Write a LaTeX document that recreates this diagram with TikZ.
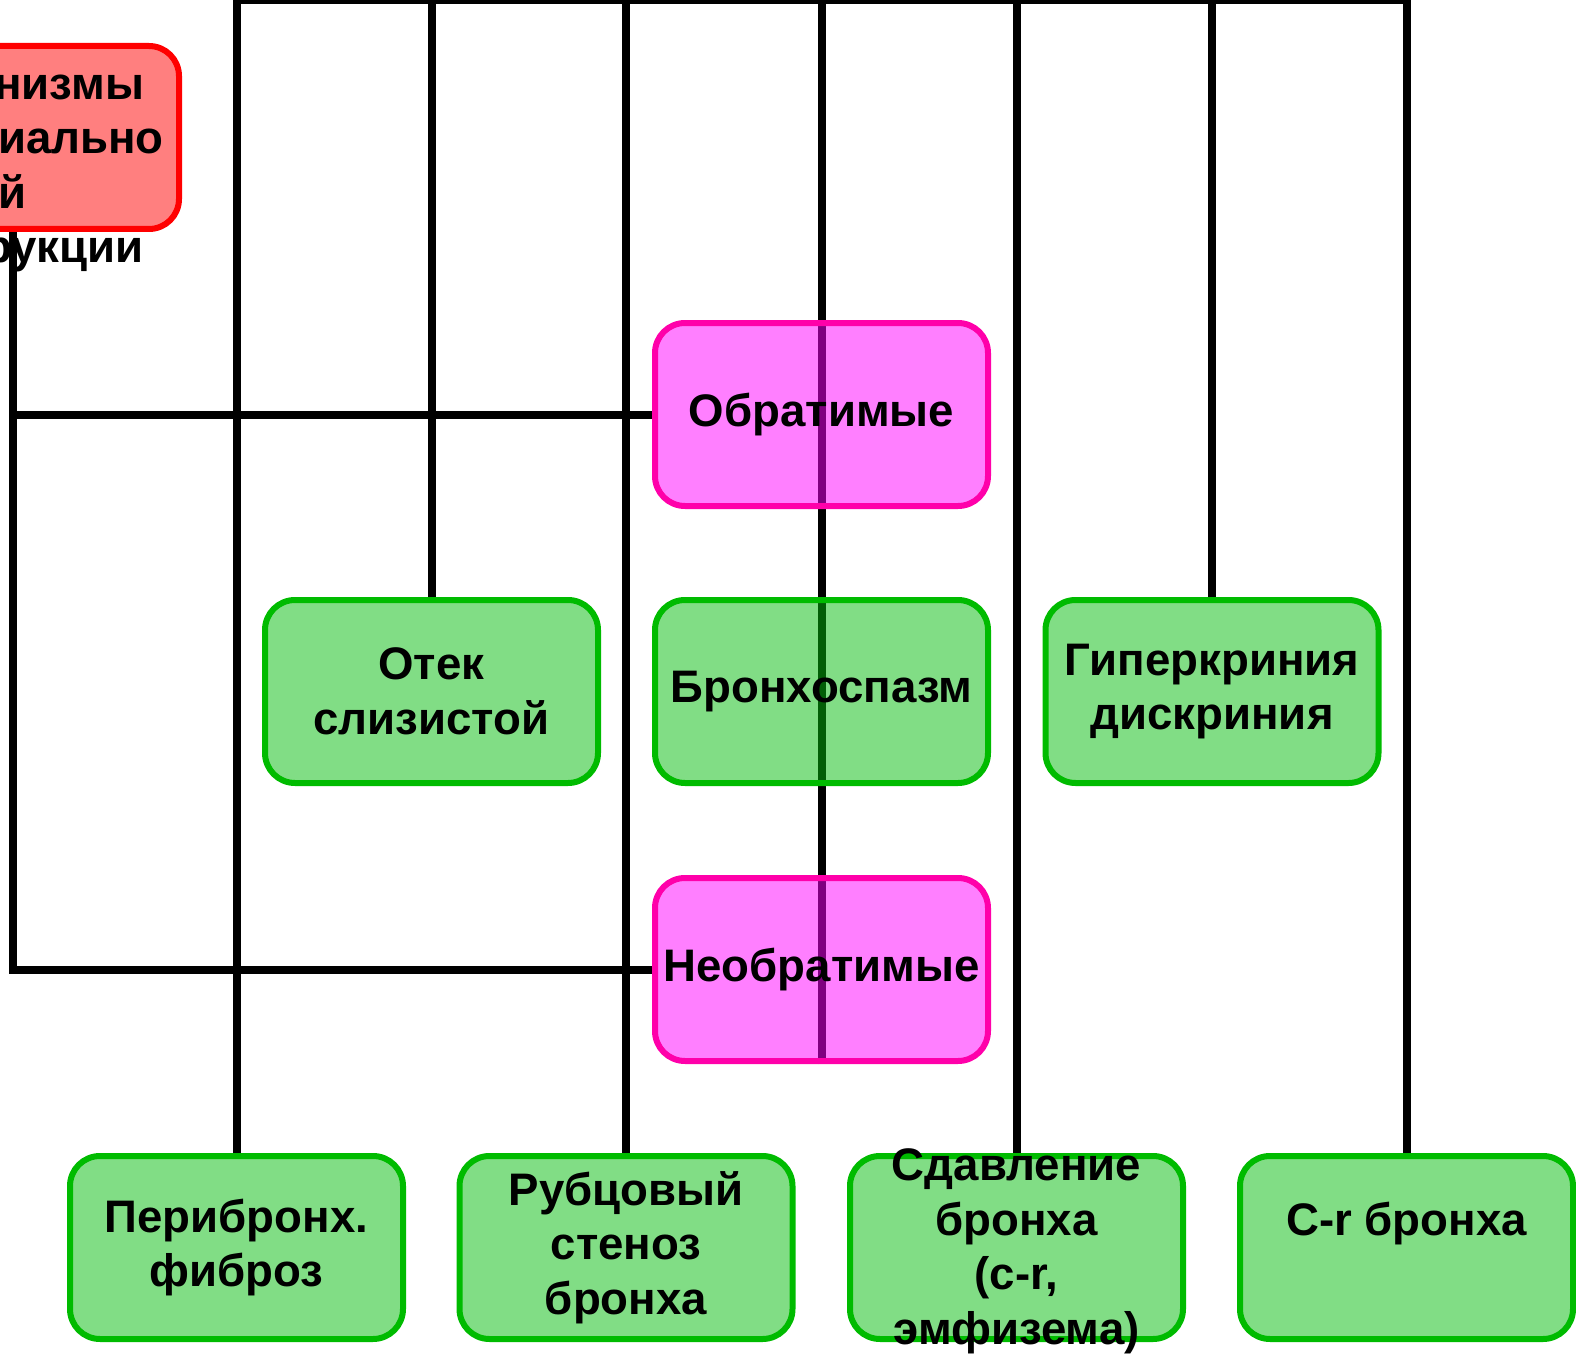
\documentclass[tikz,border=0pt]{standalone}
\usepackage{fontspec}
\setmainfont{Liberation Sans}
\usetikzlibrary{backgrounds}
\definecolor{boxgreen}{RGB}{4,188,12}
\definecolor{edgegreen}{RGB}{0,187,0}
\definecolor{boxpink}{RGB}{255,0,255}
\definecolor{edgepink}{RGB}{255,0,170}

\begin{document}
\begin{tikzpicture}[x=0.5pt,y=-0.5pt,
  boxtext/.style={align=center,font=\bfseries\fontsize{22.8}{27.25}\selectfont},
  box/.style={boxtext,draw,line width=3pt,rounded corners=15pt,minimum width=166.5pt,
    minimum height=91.5pt,inner sep=0pt,fill opacity=0.5,text opacity=1},
  greenbox/.style={box,draw=edgegreen,fill=boxgreen},
  pinkbox/.style={box,draw=edgepink,fill=boxpink},
  redbox/.style={box,draw=red,fill=red},
  link/.style={line width=4pt}]
  \useasboundingbox (0,0) rectangle (1576,1354);
  \clip (0,0) rectangle (1576,1354);
  % top block, cut by the slide edge
  \node[redbox] (mech) at (12.5,137.5) {};
  \node[boxtext] (mechtext) at (12.5,170)
    {Механизмы\\бронхиально\\й\\обструкции};
  % middle column
  \node[pinkbox] (obr) at (821.5,414.5) {Обратимые};
  \node[greenbox] (bronch) at (821.5,691.5) {Бронхоспазм};
  \node[pinkbox] (neobr) at (821.5,969.5) {Необратимые};
  \node[greenbox] (otek) at (431.5,691.5) {Отек\\слизистой};
  \node[greenbox] (giper) at (1212,691.5) {Гиперкриния\\дискриния};
  % bottom row
  \node[greenbox] (peri) at (236.5,1247.5) {Перибронх.\\фиброз};
  \node[greenbox] (rubc) at (626,1247.5) {Рубцовый\\стеноз\\бронха};
  \node[greenbox] (sdav) at (1016.5,1247.5) {};
  \node[boxtext,yshift=-2pt] (sdavtext) at (sdav) {Сдавление\\бронха\\(c-r,\\эмфизема)};
  \node[greenbox] (cr) at (1406.5,1247.5) {C-r бронха\\[-7pt]\strut};
  \coordinate (bus) at (821.5,0);
  \begin{scope}[on background layer]
    \clip (0,0) rectangle (1576,1354);
    \draw[link] (peri.north) -- (peri.north |- bus) -- (cr.north |- bus) -- (cr.north);
    \foreach \n in {otek,rubc,sdav,giper}
      \draw[link] (\n.north) -- (\n.north |- bus);
    \draw[link] (neobr.south) -- (neobr.south |- bus);
    \draw[link] (mech.south) |- (obr.west);
    \draw[link] (mech.south) |- (neobr.west);
  \end{scope}
\end{tikzpicture}
\end{document}
